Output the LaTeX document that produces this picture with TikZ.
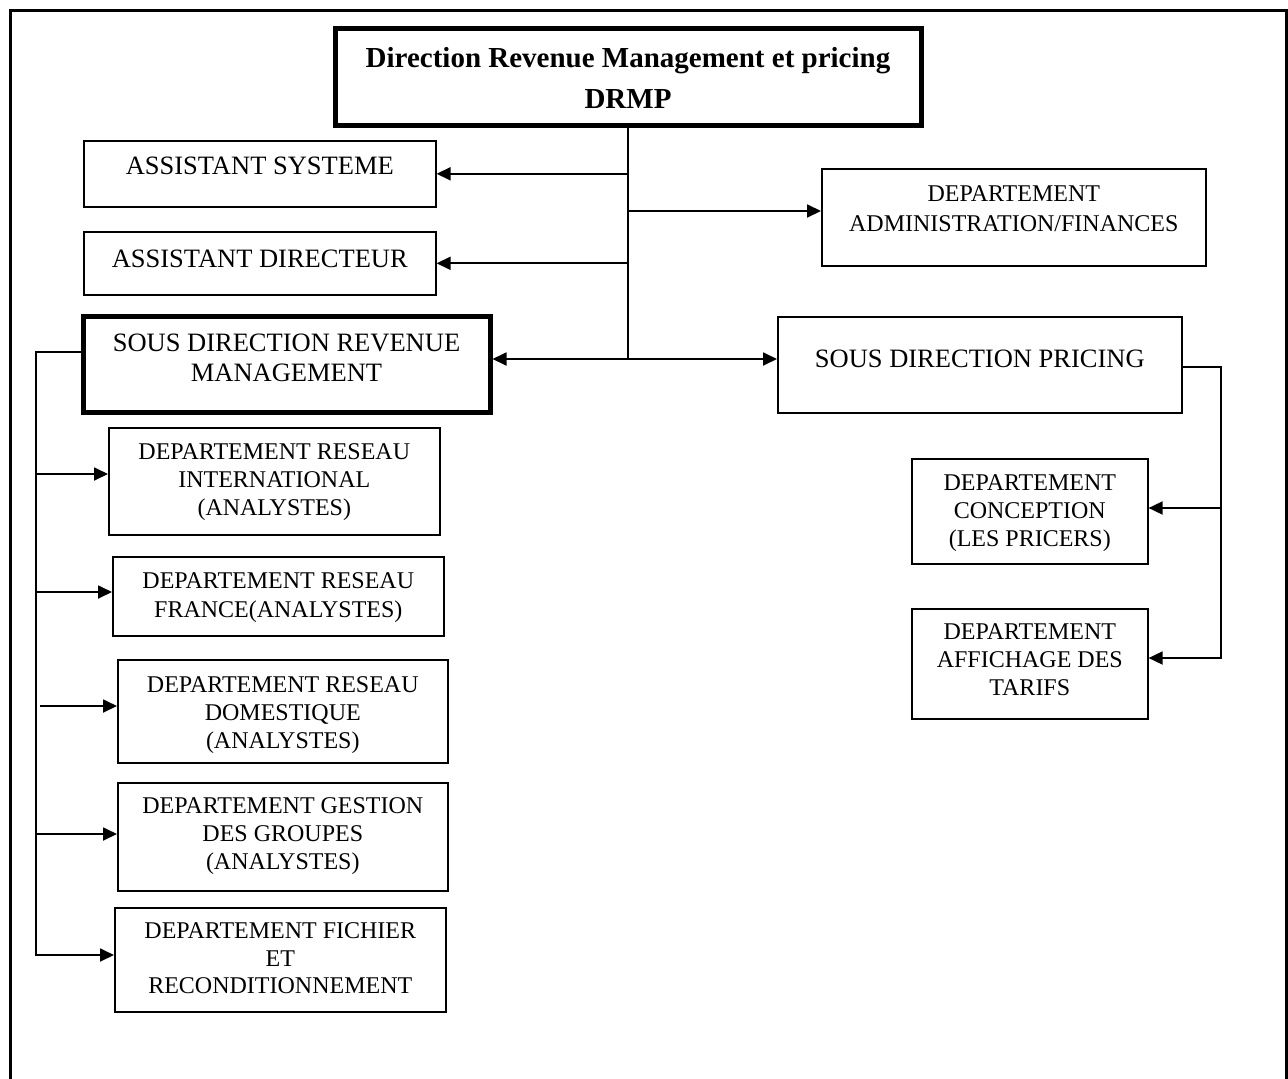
\documentclass[tikz,border=0pt]{standalone}
\usepackage{fontspec}
\setmainfont{Liberation Serif}
\usetikzlibrary{arrows.meta}

% top-aligned box content: width, height, first baseline offset, text
\newcommand\orgtext[4]{\parbox[t][#2pt][t]{#1pt}{\centering\rule{0pt}{#3pt}#4}}

\tikzset{
  orgbox/.style={draw, line width=1.6pt, inner sep=0pt, anchor=north west},
  heavybox/.style={draw, line width=5pt, inner sep=0pt, anchor=north west},
  bigtxt/.style={font=\fontsize{26.5}{30.5}\selectfont},
  depttxt/.style={font=\fontsize{24}{28}\selectfont},
  titletxt/.style={font=\fontsize{29}{41}\selectfont\bfseries},
  link/.style={line width=1.8pt},
  arr/.style={line width=1.8pt, -{Triangle[length=14pt,width=13pt]}}
}

\begin{document}
\begin{tikzpicture}[x=1pt,y=-1pt]
\useasboundingbox (0,0) rectangle (1288,1079);

% outer frame
\draw[line width=3pt] (10,1090) -- (10,10) -- (1286,10) -- (1286,1090);

% head
\node[heavybox, titletxt] (drmp) at (332.5,25.5)
  {\orgtext{586}{97}{39}{Direction Revenue Management et pricing\\DRMP}};

% staff and sub-directions
\node[orgbox, bigtxt] (as) at (83,140) {\orgtext{352}{66}{34}{ASSISTANT SYSTEME}};
\node[orgbox, bigtxt] (ad) at (83,231) {\orgtext{352}{63}{36}{ASSISTANT DIRECTEUR}};
\node[orgbox, font=\fontsize{24}{30}\selectfont] (daf) at (821,168)
  {\orgtext{384}{97}{32.5}{DEPARTEMENT\\ADMINISTRATION/FINANCES}};
\node[heavybox, font=\fontsize{26.5}{30}\selectfont] (sdrm) at (80.5,313.5)
  {\orgtext{407}{96}{35.5}{SOUS DIRECTION REVENUE\\MANAGEMENT}};
\node[orgbox, bigtxt] (sdp) at (777,316) {\orgtext{404}{96}{51}{SOUS DIRECTION PRICING}};

% revenue management departments
\node[orgbox, depttxt] (dri) at (108,427)
  {\orgtext{331}{107}{32}{DEPARTEMENT RESEAU\\INTERNATIONAL\\(ANALYSTES)}};
\node[orgbox, font=\fontsize{24}{29}\selectfont] (drf) at (112,556)
  {\orgtext{331}{79}{32}{DEPARTEMENT RESEAU\\FRANCE(ANALYSTES)}};
\node[orgbox, depttxt] (drd) at (117,659)
  {\orgtext{330}{103}{32.5}{DEPARTEMENT RESEAU\\DOMESTIQUE\\(ANALYSTES)}};
\node[orgbox, depttxt] (dgg) at (117,782)
  {\orgtext{330}{108}{31}{DEPARTEMENT GESTION\\DES GROUPES\\(ANALYSTES)}};
\node[orgbox, font=\fontsize{24}{27.5}\selectfont] (dfr) at (114,907)
  {\orgtext{331}{104}{31}{DEPARTEMENT FICHIER\\ET\\RECONDITIONNEMENT}};

% pricing departments
\node[orgbox, depttxt] (conc) at (911,458)
  {\orgtext{236}{105}{32}{DEPARTEMENT\\CONCEPTION\\(LES PRICERS)}};
\node[orgbox, depttxt] (aff) at (911,608)
  {\orgtext{236}{110}{31}{DEPARTEMENT\\AFFICHAGE DES\\TARIFS}};

% junction points
\coordinate (hub) at (drmp.south |- 0,359);
\coordinate (bdaf) at (drmp.south |- 0,211);
\coordinate (ltop) at (36,352);
\coordinate (l1) at (36,474);
\coordinate (l2) at (36,592);
\coordinate (l3) at (40,706);
\coordinate (l4) at (36,834);
\coordinate (l5) at (36,955);
\coordinate (rtop) at (1221,367);
\coordinate (r1) at (1221,508);
\coordinate (r2) at (1221,658);

% head connectors
\draw[link] (drmp.south) -- (hub);
\draw[arr] (drmp.south |- as.east) -- (as.east);
\draw[arr] (drmp.south |- ad.east) -- (ad.east);
\draw[arr] (bdaf) -- (bdaf -| daf.west);
\draw[arr] (hub) -- (hub -| sdrm.east);
\draw[arr] (hub) -- (hub -| sdp.west);

% revenue management bus
\draw[arr] (ltop -| sdrm.west) -- (ltop) -- (l5) -- (l5 -| dfr.west);
\draw[arr] (l1) -- (l1 -| dri.west);
\draw[arr] (l2) -- (l2 -| drf.west);
\draw[arr] (l3) -- (l3 -| drd.west);
\draw[arr] (l4) -- (l4 -| dgg.west);

% pricing bus
\draw[arr] (rtop -| sdp.east) -- (rtop) -- (r2) -- (r2 -| aff.east);
\draw[arr] (r1) -- (r1 -| conc.east);
\end{tikzpicture}
\end{document}
